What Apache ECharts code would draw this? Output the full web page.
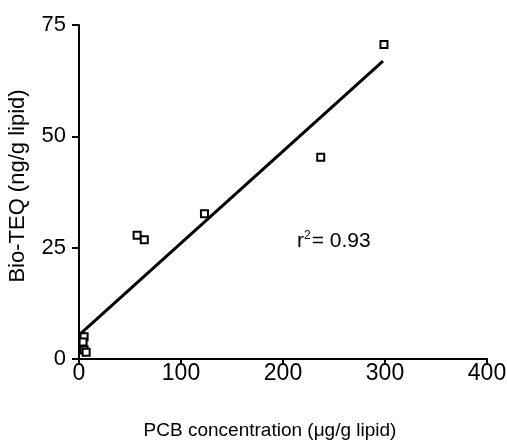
<!DOCTYPE html>
<html>
<head>
<meta charset="utf-8">
<script src="https://cdn.jsdelivr.net/npm/echarts@6/dist/echarts.min.js"></script>
<style>
html,body{margin:0;padding:0;background:#fff;}
#chart{width:507px;height:448px;}
</style>
</head>
<body>
<div id="chart"></div>
<script>
// Data
var pcb = [5, 4, 5, 7, 57, 64, 123, 237, 299];
var bioTeq = [5, 3.8, 2, 1.5, 27.8, 26.8, 32.6, 45.3, 70.6];
var fitX = [1, 298];
var fitY = [5.6, 66.9];
var xTicks = [0, 100, 200, 300, 400];
var yTicks = [0, 25, 50, 75];
var xTitle = 'PCB concentration (\u03bcg/g lipid)';
var yTitle = 'Bio-TEQ (ng/g lipid)';

var pts = pcb.map(function (x, i) { return [x, bioTeq[i]]; });
var fit = fitX.map(function (x, i) { return [x, fitY[i]]; });
var FONT = '"Liberation Sans", Arial, sans-serif';

var chart = echarts.init(document.getElementById('chart'), null, {renderer: 'canvas'});
chart.setOption({
  backgroundColor: '#fff',
  animation: false,
  grid: {left: 79, top: 25, right: 20, bottom: 89, containLabel: false, outerBoundsMode: 'none'},
  xAxis: {
    type: 'value', min: xTicks[0], max: xTicks[xTicks.length - 1], interval: 100,
    name: xTitle, nameLocation: 'middle', nameGap: 62,
    nameTextStyle: {fontFamily: FONT, fontSize: 19, color: '#000', padding: [0, 26, 0, 0]},
    axisLine: {lineStyle: {color: '#000', width: 2}},
    axisTick: {show: true, length: 6, lineStyle: {color: '#000', width: 2}},
    axisLabel: {fontFamily: FONT, fontSize: 23, color: '#000', margin: 3},
    splitLine: {show: false}
  },
  yAxis: {
    type: 'value', min: yTicks[0], max: yTicks[yTicks.length - 1], interval: 25,
    name: yTitle, nameLocation: 'middle', nameGap: 50, nameRotate: 90,
    nameTextStyle: {fontFamily: FONT, fontSize: 22, color: '#000', padding: [0, 0, 0, 12]},
    axisLine: {lineStyle: {color: '#000', width: 2}},
    axisTick: {show: true, length: 7, lineStyle: {color: '#000', width: 2}},
    axisLabel: {fontFamily: FONT, fontSize: 22, color: '#000', margin: 13},
    splitLine: {show: false}
  },
  series: [
    {
      type: 'line', data: fit, showSymbol: false, symbol: 'none',
      lineStyle: {color: '#000', width: 3}, z: 2
    },
    {
      type: 'scatter', data: pts, symbol: 'rect', symbolSize: 7,
      itemStyle: {color: '#fff', borderColor: '#000', borderWidth: 2, opacity: 1}, z: 3
    }
  ],
  graphic: [{
    type: 'text', left: 297, top: 230,
    style: {
      text: '{b|r}{s|2}{b|= 0.93}',
      rich: {
        b: {fontFamily: FONT, fontSize: 21, fill: '#000', verticalAlign: 'bottom'},
        s: {fontFamily: FONT, fontSize: 12, fill: '#000', verticalAlign: 'top', padding: [0, 1, 10, 0]}
      }
    }
  }]
});
</script>
</body>
</html>
